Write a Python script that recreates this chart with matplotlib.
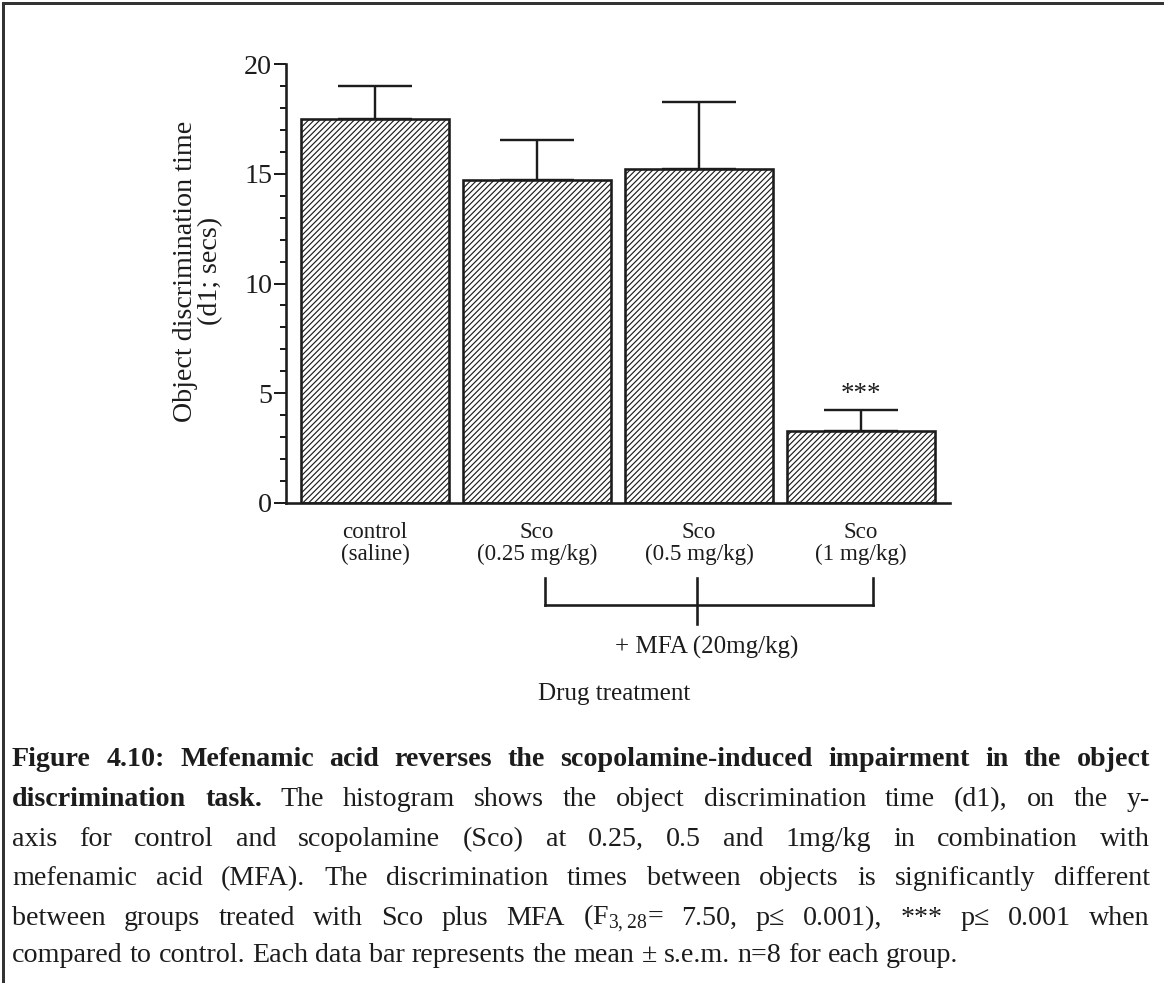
import matplotlib
matplotlib.use("Agg")
import matplotlib.pyplot as plt
from matplotlib.lines import Line2D
import numpy as np

plt.rcParams['font.family'] = ['Liberation Serif', 'DejaVu Serif']
plt.rcParams['mathtext.fontset'] = 'custom'
plt.rcParams['mathtext.rm'] = 'Liberation Serif'
plt.rcParams['hatch.linewidth'] = 0.7

# data
groups = ["control\n(saline)", "Sco\n(0.25 mg/kg)", "Sco\n(0.5 mg/kg)", "Sco\n(1 mg/kg)"]
means = [17.5, 14.7, 15.2, 3.3]
sem = [1.5, 1.85, 3.05, 0.95]
stars = ["", "", "", "***"]
yticks = [0, 5, 10, 15, 20]

caption = [
    [("Figure 4.10: Mefenamic acid reverses the scopolamine-induced impairment in the object", True)],
    [("discrimination task.", True), ("The histogram shows the object discrimination time (d1), on the y-", False)],
    [("axis for control and scopolamine (Sco) at 0.25, 0.5 and 1mg/kg in combination with", False)],
    [("mefenamic acid (MFA). The discrimination times between objects is significantly different", False)],
    [("between groups treated with Sco plus MFA (F$_{3,28}$= 7.50, p\u2264 0.001), *** p\u2264 0.001 when", False)],
    [("compared to control. Each data bar represents the mean \u00b1 s.e.m. n=8 for each group.", False)],
]

W, H, DPI = 1164, 983, 120
ink = '#1c1c1c'

def fx(p):
    return p / W

def fy(p):
    return 1 - p / H

def pt(p):
    return p * 72 / DPI

fig = plt.figure(figsize=(W / DPI, H / DPI), dpi=DPI)
ax = fig.add_axes([fx(286), fy(503), fx(950) - fx(286), fy(64) - fy(503)])

x = np.arange(len(means))
ax.bar(x, means, width=0.91, color='white', edgecolor=ink, hatch='///////',
       linewidth=pt(2.6), zorder=2)
ax.errorbar(x, means, yerr=[np.zeros(len(sem)), sem], fmt='none', ecolor=ink,
            elinewidth=pt(2.4), capsize=pt(37), capthick=pt(2.4), zorder=1)
for xi, m, s, st in zip(x, means, sem, stars):
    if st:
        ax.text(xi, m + s + 0.12, st, ha='center', va='bottom', fontsize=pt(27), color=ink)

ax.set_xlim(-0.55, 3.55)
ax.set_ylim(0, 20)
ax.set_yticks(yticks)
ax.set_yticks(np.arange(0, 21, 1), minor=True)
ax.set_xticks(x)
ax.set_xticklabels(groups, fontsize=pt(23), linespacing=1.05)
ax.tick_params(axis='x', length=0, pad=pt(19), colors=ink)
ax.tick_params(axis='y', which='major', length=pt(12), width=pt(2), pad=pt(2),
               labelsize=pt(28), colors=ink)
ax.tick_params(axis='y', which='minor', length=pt(6), width=pt(2), colors=ink)
for side in ['top', 'right']:
    ax.spines[side].set_visible(False)
for side in ['left', 'bottom']:
    ax.spines[side].set_linewidth(pt(2.6))
    ax.spines[side].set_color(ink)

fig.text(fx(198), fy(271), "Object discrimination time\n(d1; secs)", rotation=90,
         ha='center', va='center', multialignment='center', fontsize=pt(28),
         linespacing=1.05, color=ink)

# bracket for the MFA groups
lw = pt(2.6)
xl, xc, xr = fx(545), fx(697), fx(873)
for seg in [([xl, xl], [fy(578), fy(605)]), ([xr, xr], [fy(578), fy(605)]),
            ([xl, xr], [fy(605), fy(605)]), ([xc, xc], [fy(578), fy(624)])]:
    fig.add_artist(Line2D(seg[0], seg[1], color=ink, lw=lw, solid_capstyle='projecting'))
fig.text(fx(707), fy(647), "+ MFA (20mg/kg)", ha='center', va='center', fontsize=pt(25), color=ink)
fig.text(fx(614), fy(694), "Drug treatment", ha='center', va='center', fontsize=pt(25), color=ink)

# border
fig.add_artist(Line2D([fx(3), fx(3)], [fy(3), 0], color='#333333', lw=pt(3)))
fig.add_artist(Line2D([fx(3), 1], [fy(3), fy(3)], color='#333333', lw=pt(3)))

# justified caption
renderer = fig.canvas.get_renderer()
left_px, right_px = 12, 1150
baselines = [766, 806, 846, 885, 925, 962]
base_size = 28

def place_line(parts, base, size, justify):
    words = []
    for txt, bold in parts:
        for t in txt.split(' '):
            words.append((t, bold))
    while True:
        texts = [fig.text(0, fy(base), w, fontsize=pt(size), fontweight='bold' if b else 'normal',
                          ha='left', va='baseline', color=ink) for w, b in words]
        widths = [t.get_window_extent(renderer).width for t in texts]
        space = 0.18 * size
        need = sum(widths) + space * (len(words) - 1)
        if need <= right_px - left_px or size < 10:
            break
        for t in texts:
            t.remove()
        size -= 0.5
    if justify:
        gap = (right_px - left_px - sum(widths)) / (len(words) - 1)
    else:
        gap = 0.25 * size
    pos = left_px
    for t, w in zip(texts, widths):
        t.set_x(fx(pos))
        pos += w + gap

for i, (parts, base) in enumerate(zip(caption, baselines)):
    place_line(parts, base, base_size, justify=(i < len(caption) - 1))

fig.savefig("out.png", dpi=DPI)
